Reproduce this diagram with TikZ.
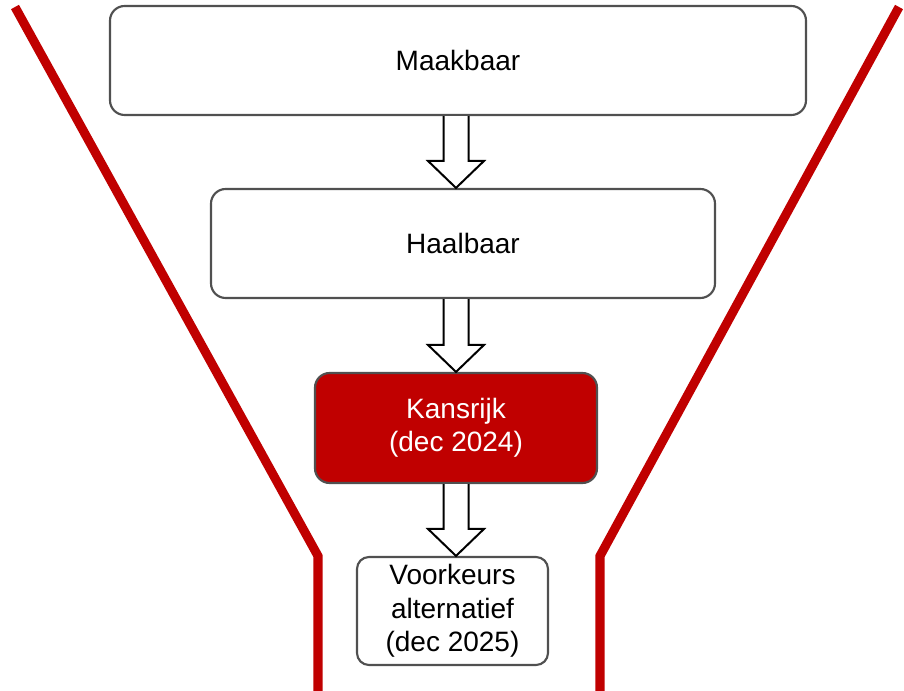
\documentclass[tikz,border=0pt]{standalone}
\usepackage{fontspec}
\setmainfont{Liberation Sans}
\usetikzlibrary{calc}
\definecolor{funnelred}{HTML}{C00000}
\definecolor{boxgray}{HTML}{505050}
\tikzset{
  stagebox/.style={draw=boxgray, line width=1.6pt, rounded corners=11pt, fill=white, inner sep=0pt,
    font=\fontsize{21}{25}\selectfont, align=center, text=black},
  redbox/.style={stagebox, fill=funnelred, text=white},
  funnel/.style={draw=funnelred, line width=6.8pt, line join=miter, line cap=butt},
  blockarrow/.style={draw=black, line width=1.5pt, fill=white, line join=miter}
}
\begin{document}
\begin{tikzpicture}[x=0.75pt,y=-0.75pt]
\useasboundingbox (0,0) rectangle (904,691);
% funnel walls
\coordinate (lt) at (15,7);
\coordinate (lk) at (318,556);
\coordinate (lb) at (318,691);
\coordinate (rt) at (899,7);
\coordinate (rk) at (600,556);
\coordinate (rb) at (600,691);
\draw[funnel] (lt) -- (lk) -- (lb);
\draw[funnel] (rt) -- (rk) -- (rb);
% boxes
\node[stagebox, minimum width=696*0.75pt, minimum height=109*0.75pt] (m) at (458,60.5) {Maakbaar};
\node[stagebox, minimum width=504*0.75pt, minimum height=109*0.75pt] (h) at (463,243.5) {Haalbaar};
\node[redbox, minimum width=282*0.75pt, minimum height=110*0.75pt] (k) at (456,428) {Kansrijk\\(dec 2024)};
\node[stagebox, minimum width=191*0.75pt, minimum height=108*0.75pt, rounded corners=9pt] (v) at (452.5,611) {Voorkeurs\\alternatief\\(dec 2025)};
% block arrows
\foreach \a/\b in {m/h, h/k, k/v}{
  \path let \p1=(\a.south), \p2=(\b.north) in
    coordinate (s) at (456,\y1) coordinate (t) at (456,\y2);
  \draw[blockarrow] ($(s)+(-12.5,0)$) -- ($(t)+(-12.5,-27)$) -- ($(t)+(-28,-27)$) -- (t)
    -- ($(t)+(28,-27)$) -- ($(t)+(12.5,-27)$) -- ($(s)+(12.5,0)$);
}
\end{tikzpicture}
\end{document}
